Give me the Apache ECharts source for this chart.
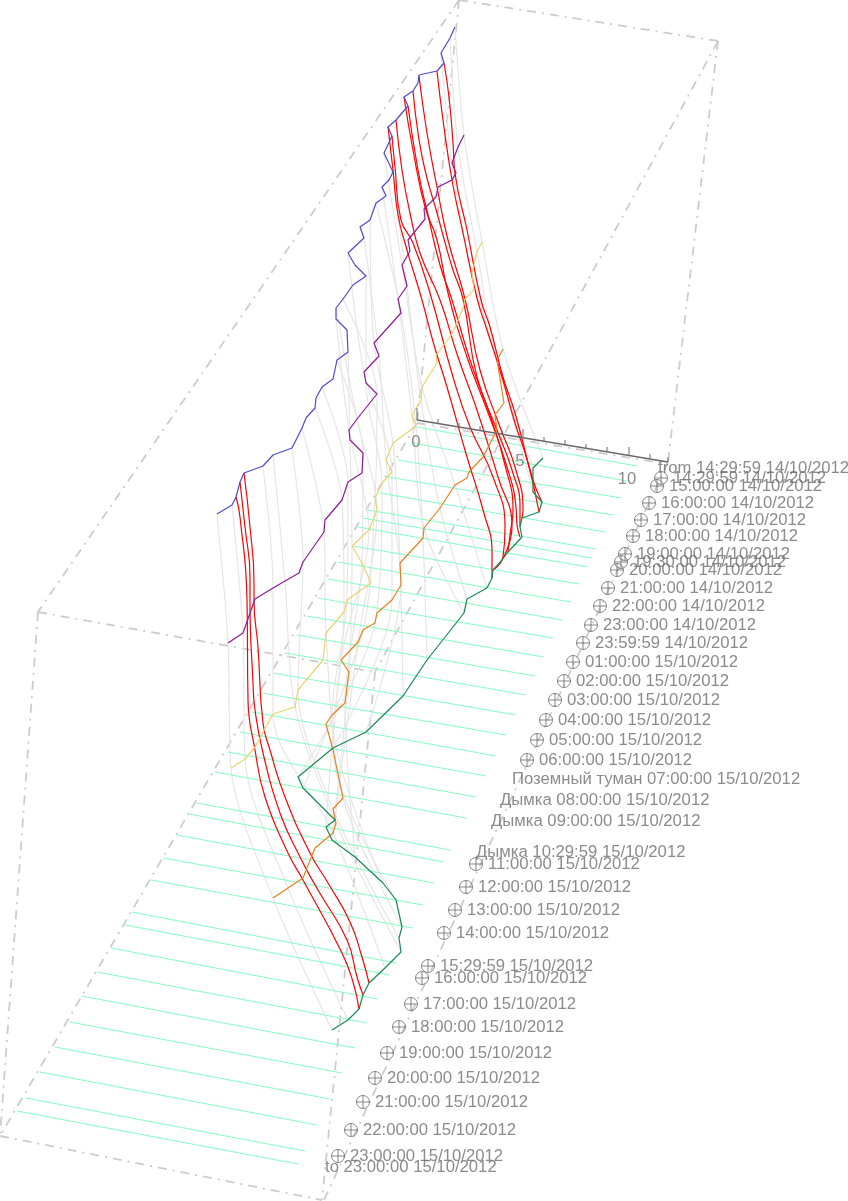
<!DOCTYPE html>
<html><head><meta charset="utf-8">
<style>html,body{margin:0;padding:0;background:#fff}#c{width:848px;height:1201px}</style>
<script src="https://cdn.jsdelivr.net/npm/echarts@6/dist/echarts.min.js"></script>
</head><body><div id="c"></div>
<script>
// Projected level lines (page-scale axis units)
const blueLine=[[455,27],[450,38],[441,53],[444,63],[437,71],[419,75],[418,83],[413,91],[404,97],[408,106],[396,120],[388,127],[392,136],[384,153],[393,172],[389,180],[382,187],[386,196],[376,203],[370,220],[360,227],[364,238],[348,253],[355,265],[366,276],[353,285],[343,299],[336,308],[336,319],[347,330],[348,352],[337,360],[333,379],[322,387],[316,398],[315,408],[306,418],[302,428],[292,448],[273,455],[263,466],[244,473],[240,482],[236,497],[232,505],[217,514]];
const purpleLine=[[464,135],[458,147],[452,163],[456,173],[452,180],[438,187],[436,197],[424,209],[425,219],[408,240],[410,251],[402,265],[407,286],[398,299],[401,313],[374,343],[379,356],[364,372],[366,383],[377,394],[357,419],[349,430],[350,440],[363,453],[362,473],[348,482],[342,500],[325,520],[324,532],[303,562],[299,573],[285,581],[273,588],[255,599],[243,633],[228,643]];
const yellowLine=[[482,242],[477,252],[472,273],[474,290],[465,299],[463,308],[457,323],[450,337],[436,355],[437,363],[422,387],[421,400],[412,415],[416,426],[393,443],[386,460],[392,472],[382,483],[375,498],[377,510],[369,530],[352,546],[362,563],[371,583],[347,600],[344,612],[326,633],[323,660],[298,690],[295,707],[273,714],[255,747],[245,759],[231,768]];
const orangeLine=[[503,349],[497,360],[504,403],[495,415],[497,430],[483,457],[469,472],[467,478],[455,485],[440,508],[424,528],[423,538],[400,563],[401,585],[392,600],[377,613],[375,623],[363,630],[358,642],[341,660],[349,672],[345,703],[332,715],[326,724],[333,750],[343,798],[333,809],[336,823],[333,833],[315,848],[303,878],[288,888],[273,898]];
const greenLine=[[543,458],[533,468],[533,492],[542,502],[539,512],[522,518],[520,527],[522,537],[508,552],[502,560],[493,570],[492,578],[487,588],[467,599],[464,613],[427,660],[403,696],[366,732],[333,748],[298,777],[303,788],[335,820],[326,827],[332,840],[355,857],[383,883],[396,900],[402,927],[399,938],[401,952],[385,968],[369,983],[363,995],[359,1009],[348,1020],[332,1030]];
// Gray time profiles: vertex index on [blue, purple, yellow, orange, green]
const grayLinks=[[0,0,0,0,0],[1,1,1,1,1],[2,2,2,1,2],[13,11,10,8,12],[14,12,11,9,13],[16,13,12,10,14],[18,14,13,11,15],[19,15,14,12,16],[21,16,15,13,17],[22,17,16,14,18],[24,18,17,16,19],[26,19,18,17,20],[27,20,19,18,21],[28,21,20,19,22],[30,22,21,20,23],[31,23,22,21,24],[33,25,24,22,25],[35,26,25,24,26],[37,28,26,25,27],[38,29,28,26,28],[39,31,29,27,29],[40,32,30,28,30],[44,34,32,31,34],[45,35,33,32,35]];
// Red time profiles
const redProfiles=[
[[444,63],[449,97],[453,143],[455,173],[467,230],[481,300],[490,327],[503,377],[515,413],[533,480],[542,502]],
[[437,71],[443,120],[452,180],[463,233],[477,298],[487,330],[502,377],[515,423],[528,463],[539,512]],
[[419,76],[427,133],[437,187],[448,240],[465,299],[480,370],[500,427],[515,467],[523,510],[522,518]],
[[413,91],[418,133],[425,170],[437,213],[452,267],[463,299],[477,377],[497,430],[512,470],[520,507],[520,527]],
[[404,97],[413,150],[425,207],[437,240],[448,293],[467,357],[487,410],[507,467],[516,507],[517,525],[520,537]],
[[408,106],[418,170],[428,215],[440,265],[452,300],[470,360],[490,415],[505,465],[513,510],[510,535],[508,552]],
[[396,120],[402,170],[410,213],[420,253],[440,300],[458,357],[477,410],[498,477],[512,527],[502,560]],
[[392,136],[395,167],[401,220],[413,243],[430,293],[453,377],[470,427],[493,477],[505,527],[503,557],[493,570]],
[[388,127],[393,170],[398,215],[407,250],[413,270],[422,300],[434,345],[447,387],[467,457],[483,510],[492,553],[492,578]],
[[244,473],[250,527],[254,583],[254,600],[258,647],[263,723],[270,750],[285,797],[310,853],[328,883],[350,922],[362,957],[369,983]],
[[240,482],[245,527],[250,577],[250,600],[253,683],[255,710],[263,753],[280,813],[300,857],[318,890],[347,940],[357,977],[363,995]],
[[236,497],[240,517],[247,600],[248,700],[255,750],[265,797],[288,853],[303,880],[342,953],[353,982],[359,1009]]
];
// Mint time rules: left and right ends
const mintStart=[[417,427],[412,443],[398,460],[388,477],[380,493],[368,510],[363,518],[358,527],[353,546],[338,562],[328,579],[318,598],[307,616],[297,635],[285,653],[273,673],[262,693],[252,712],[240,732],[228,752],[215,772],[197,803],[189,814],[177,835],[163,858],[151,880],[132,912],[125,925],[111,948],[97,972],[82,996],[70,1022],[55,1047],[40,1072],[26,1098],[17,1111]];
const mintEnd=[[637,466],[627,481],[621,498],[613,515],[605,532],[596,549],[592,558],[588,567],[579,584],[571,602],[562,620],[553,638],[544,657],[535,676],[526,695],[516,715],[506,735],[496,756],[486,776],[476,797],[466,818],[450,850],[444,862],[434,883],[423,905],[413,928],[396,963],[390,975],[378,999],[367,1023],[355,1048],[342,1073],[330,1099],[317,1125],[305,1151],[298,1164]];
// Box edges (dash-dot)
const boxEdges=[[[459,0],[718,41]],[[459,0],[38,612]],[[459,0],[417,423]],[[718,41],[375,672]],[[718,41],[668,462]],[[417,423],[668,464]],[[417,423],[0,1136]],[[668,462],[324,1200]],[[38,612],[375,672]],[[38,612],[0,1136]],[[375,672],[322,1200]],[[0,1136],[322,1200]]];
// Width axis
const axisEnds=[[417,420],[668,462]];
const axisTicks=[[417,420,408],[438,423.5,419],[459,427,423],[480,430.5,426],[502,434,430],[523,437.5,429],[544,441,437],[565,444.5,440],[586,448,444],[607,451.5,447],[629,455,447],[650,458.5,454],[668,462,457]];
const axisLabels=[[416,442,'0'],[520,461,'5'],[627,479,'10']];
// Time labels
const markedLabels=[[661,478,'14:29:59 14/10/2012'],[657,486,'15:00:00 14/10/2012'],[649,503,'16:00:00 14/10/2012'],[641,520,'17:00:00 14/10/2012'],[633,536,'18:00:00 14/10/2012'],[625,554,'19:00:00 14/10/2012'],[621,562,'19:30:00 14/10/2012'],[617,570,'20:00:00 14/10/2012'],[608,588,'21:00:00 14/10/2012'],[600,606,'22:00:00 14/10/2012'],[591,625,'23:00:00 14/10/2012'],[583,643,'23:59:59 14/10/2012'],[573,662,'01:00:00 15/10/2012'],[564,681,'02:00:00 15/10/2012'],[555,700,'03:00:00 15/10/2012'],[546,720,'04:00:00 15/10/2012'],[537,740,'05:00:00 15/10/2012'],[527,760,'06:00:00 15/10/2012'],[476,864,'11:00:00 15/10/2012'],[466,887,'12:00:00 15/10/2012'],[455,910,'13:00:00 15/10/2012'],[444,933,'14:00:00 15/10/2012'],[428,966,'15:29:59 15/10/2012'],[422,978,'16:00:00 15/10/2012'],[411,1004,'17:00:00 15/10/2012'],[399,1027,'18:00:00 15/10/2012'],[387,1053,'19:00:00 15/10/2012'],[375,1078,'20:00:00 15/10/2012'],[363,1102,'21:00:00 15/10/2012'],[351,1130,'22:00:00 15/10/2012'],[338,1156,'23:00:00 15/10/2012']];
const plainLabels=[[658,468,'from 14:29:59 14/10/2012'],[512,779,'Поземный туман 07:00:00 15/10/2012'],[500,800,'Дымка 08:00:00 15/10/2012'],[491,821,'Дымка 09:00:00 15/10/2012'],[476,852,'Дымка 10:29:59 15/10/2012'],[325,1167,'to 23:00:00 15/10/2012']];

const textBase={fontFamily:'"Liberation Sans",Arial,sans-serif',fontSize:16.7,color:'#6e6e6e'};
const line=(data,color,width,z,extra)=>Object.assign({type:'line',data,symbol:'none',silent:true,clip:false,z,
  lineStyle:{color,width}},extra||{});
const series=[];
boxEdges.forEach(e=>series.push(line(e,'#cccccc',2,1,{lineStyle:{color:'#cccccc',width:1.8,type:[9,6,2,6]}})));
grayLinks.forEach(k=>{
  series.push(line([blueLine[k[0]],purpleLine[k[1]],yellowLine[k[2]],orangeLine[k[3]],greenLine[k[4]]],'#e6e6e6',1.2,2,{smooth:0.3}));
});
mintStart.forEach((s,i)=>series.push(line([s,mintEnd[i]],'#86fcc4',1.1,3)));
redProfiles.forEach(p=>series.push(line(p,'#ff0000',1.2,4,{smooth:0.5})));
[[blueLine,'#4b4bd6'],[purpleLine,'#8f1a96'],[yellowLine,'#e8d470'],[orangeLine,'#e8801e'],[greenLine,'#1a8a55']]
 .forEach(([d,c])=>series.push(line(d,c,1.2,5)));
series.push(line(axisEnds,'#6a6a6a',1.6,6));
axisTicks.forEach(t=>series.push(line([[t[0],t[1]],[t[0],t[2]]],'#6a6a6a',1,6)));
series.push({type:'scatter',silent:true,clip:false,z:7,symbolSize:0,
  data:axisLabels.map(a=>({value:[a[0],a[1]],name:a[2]})),
  label:{show:true,position:'inside',formatter:'{b}',...textBase}});
series.push({type:'scatter',silent:true,clip:false,z:7,
  symbol:'path://M0 6A6 6 0 1 1 12 6A6 6 0 1 1 0 6ZM6 0L6 12M0 6L12 6',symbolSize:13,
  itemStyle:{color:'transparent',borderColor:'#6a6a6a',borderWidth:1},
  data:markedLabels.map(a=>({value:[a[0],a[1]],name:a[2]})),
  label:{show:true,position:'right',distance:5,formatter:'{b}',...textBase}});
series.push({type:'scatter',silent:true,clip:false,z:7,symbolSize:0,
  data:plainLabels.map(a=>({value:[a[0],a[1]],name:a[2]})),
  label:{show:true,position:'right',distance:0,formatter:'{b}',...textBase}});

const chart=echarts.init(document.getElementById('c'),null,{renderer:'canvas'});
chart.setOption({animation:false,backgroundColor:'#fff',
  grid:{left:0,right:0,top:0,bottom:0},
  xAxis:{type:'value',min:0,max:848,show:false},
  yAxis:{type:'value',min:0,max:1201,inverse:true,show:false},
  series});
</script></body></html>
